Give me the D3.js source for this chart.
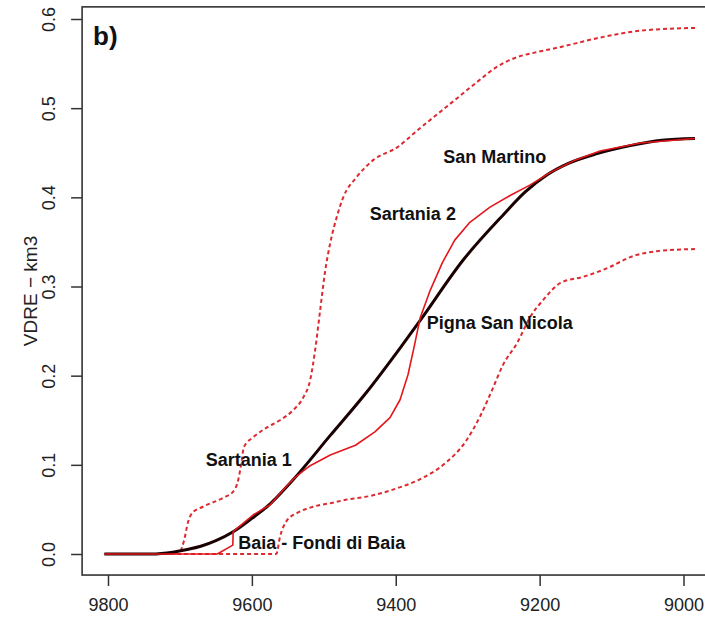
<!DOCTYPE html>
<html>
<head>
<meta charset="utf-8">
<script src="https://cdn.jsdelivr.net/npm/d3@7"></script>
<style>
  html, body { margin: 0; padding: 0; background: #fff; }
  svg { display: block; }
  text { font-family: "Liberation Sans", Arial, sans-serif; }
</style>
</head>
<body>
<svg id="chart" width="705" height="620"></svg>
<script>
// Cumulative volume of dense-rock equivalent (km3) against age (years BP)

// Modelled cumulative curve (black)
const modelYears = [9805, 9740, 9710, 9690, 9670, 9650, 9626, 9600, 9579, 9543, 9491, 9440, 9394, 9366, 9306, 9251, 9220, 9190, 9160, 9120, 9074, 9030, 8984];
const modelVol   = [0, 0, 0.002, 0.005, 0.009, 0.015, 0.025, 0.040, 0.053, 0.083, 0.133, 0.182, 0.231, 0.262, 0.330, 0.380, 0.406, 0.425, 0.438, 0.449, 0.458, 0.464, 0.466];

// Observed cumulative record with eruption steps (solid red)
const obsYears = [9805, 9648, 9626.5, 9626, 9598, 9575, 9554, 9540, 9519, 9491, 9456, 9429, 9408, 9394, 9383, 9374, 9366, 9352, 9335, 9318, 9297, 9269, 9241, 9213, 9185, 9150, 9116, 9060, 8984];
const obsVol   = [0, 0, 0.010, 0.025, 0.044, 0.055, 0.074, 0.086, 0.099, 0.111, 0.122, 0.137, 0.153, 0.173, 0.201, 0.234, 0.265, 0.296, 0.327, 0.352, 0.372, 0.389, 0.402, 0.414, 0.428, 0.442, 0.452, 0.461, 0.466];

// Upper envelope (dashed red)
const upperYears = [9805, 9711, 9700, 9694, 9689, 9683, 9668, 9640, 9626, 9619, 9615, 9611, 9598, 9579, 9561, 9543, 9529, 9519, 9512, 9505, 9498, 9491, 9482, 9473, 9454, 9431, 9398, 9370, 9318, 9289, 9260, 9232, 9203, 9174, 9117, 9059, 8984];
const upperVol   = [0, 0, 0.003, 0.016, 0.035, 0.046, 0.053, 0.063, 0.070, 0.083, 0.100, 0.120, 0.131, 0.142, 0.150, 0.161, 0.175, 0.195, 0.229, 0.274, 0.318, 0.349, 0.378, 0.400, 0.423, 0.442, 0.456, 0.475, 0.509, 0.528, 0.546, 0.557, 0.563, 0.568, 0.579, 0.587, 0.590];

// Lower envelope (dashed red)
const lowerYears = [9805, 9566, 9561, 9551, 9537, 9515, 9491, 9468, 9436, 9401, 9366, 9331, 9303, 9283, 9266, 9251, 9231, 9213, 9195, 9171, 9139, 9102, 9074, 9032, 8984];
const lowerVol   = [0, 0, 0.019, 0.038, 0.046, 0.053, 0.057, 0.061, 0.065, 0.073, 0.084, 0.102, 0.126, 0.154, 0.184, 0.212, 0.237, 0.266, 0.285, 0.304, 0.311, 0.322, 0.333, 0.340, 0.342];

// Tick values
const xTicks = [9800, 9600, 9400, 9200, 9000];
const yTicks = [0.0, 0.1, 0.2, 0.3, 0.4, 0.5, 0.6];

// Eruption labels
const labelNames = ["Sartania 1", "Baia - Fondi di Baia", "Pigna San Nicola", "Sartania 2", "San Martino"];
const labelYears = [9664, 9619, 9357, 9436, 9334];
const labelVol   = [0.099, 0.006, 0.252, 0.375, 0.438];

const svg = d3.select("#chart");
const axisColor = "#333";

const x = d3.scaleLinear().domain([9800, 9000]).range([108, 683.5]);
const y = d3.scaleLinear().domain([0, 0.6]).range([554, 19]);

// Plot frame over the padded data range (right edge falls outside the canvas)
const fx0 = x(9836), fx1 = x(8864), fy0 = y(0.6136), fy1 = y(-0.0236);
svg.append("rect")
  .attr("x", fx0).attr("y", fy0)
  .attr("width", fx1 - fx0).attr("height", fy1 - fy0)
  .attr("fill", "none").attr("stroke", axisColor).attr("stroke-width", 1.6);

// X axis
const xAxis = d3.axisBottom(x).tickValues(xTicks).tickFormat(d3.format("d"))
  .tickSize(11).tickSizeOuter(0).tickPadding(12);
const gx = svg.append("g").attr("transform", `translate(0,${fy1})`).call(xAxis);
gx.select(".domain").remove();
gx.selectAll(".tick line").attr("stroke", axisColor).attr("stroke-width", 1.5);
gx.selectAll(".tick text").attr("fill", "#222").attr("font-size", 18);

// Y axis with rotated labels
const yAxis = d3.axisLeft(y).tickValues(yTicks).tickFormat(d3.format(".1f"))
  .tickSize(11).tickSizeOuter(0);
const gy = svg.append("g").attr("transform", `translate(${fx0},0)`).call(yAxis);
gy.select(".domain").remove();
gy.selectAll(".tick line").attr("stroke", axisColor).attr("stroke-width", 1.5);
gy.selectAll(".tick text")
  .attr("fill", "#222").attr("font-size", 18)
  .attr("x", 0).attr("dy", 0)
  .attr("text-anchor", "middle")
  .attr("transform", "translate(-27,0) rotate(-90)");

// Y axis title
svg.append("text")
  .attr("transform", `translate(37,${(fy0 + fy1) / 2}) rotate(-90)`)
  .attr("text-anchor", "middle")
  .attr("font-size", 19).attr("fill", "#222")
  .text("VDRE \u2212 km3");

// Panel tag
svg.append("text")
  .attr("x", 93).attr("y", 45)
  .attr("font-size", 26).attr("font-weight", "bold").attr("fill", "#111")
  .text("b)");

// Pair up years and volumes, ordered by increasing year for the curve generators
const toPts = (xs, ys) => xs.map((v, i) => [v, ys[i]]).sort((a, b) => a[0] - b[0]);
const lineSmooth = d3.line().x(d => x(d[0])).y(d => y(d[1])).curve(d3.curveMonotoneX);
const lineStraight = d3.line().x(d => x(d[0])).y(d => y(d[1]));

const plot = svg.append("g");

// Envelopes
[[upperYears, upperVol], [lowerYears, lowerVol]].forEach(([xs, ys]) => {
  plot.append("path")
    .attr("d", lineSmooth(toPts(xs, ys)))
    .attr("fill", "none").attr("stroke", "#dd2a30").attr("stroke-width", 2)
    .attr("stroke-dasharray", "4,3");
});

// Model curve
plot.append("path")
  .attr("d", lineSmooth(toPts(modelYears, modelVol)))
  .attr("fill", "none").attr("stroke", "#1a0000").attr("stroke-width", 3);

// Observed record (kept in recorded order so the vertical step stays vertical)
plot.append("path")
  .attr("d", lineStraight(obsYears.map((v, i) => [v, obsVol[i]])))
  .attr("fill", "none").attr("stroke", "#e3161c").attr("stroke-width", 1.6)
  .attr("stroke-linejoin", "round");

// Eruption names
svg.append("g").selectAll("text")
  .data(labelNames)
  .join("text")
  .attr("x", (d, i) => x(labelYears[i]))
  .attr("y", (d, i) => y(labelVol[i]))
  .attr("font-size", 18).attr("font-weight", "bold").attr("fill", "#111")
  .text(d => d);
</script>
</body>
</html>
